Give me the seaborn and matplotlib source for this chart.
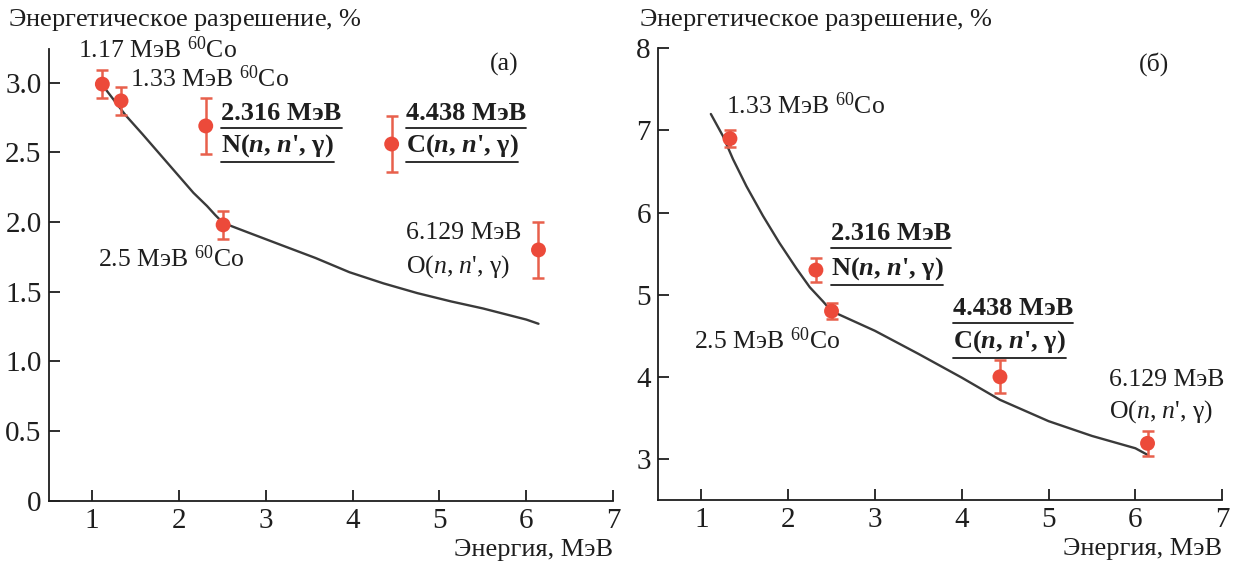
import numpy as np
import pandas as pd
import matplotlib
matplotlib.use("Agg")
import matplotlib.pyplot as plt
from matplotlib.lines import Line2D
import seaborn as sns

# ---------------- data ----------------
# panel (a)
a_energy = [1.12, 1.335, 2.31, 2.51, 4.45, 6.14]
a_res = [2.99, 2.87, 2.69, 1.98, 2.56, 1.80]
a_err = [0.10, 0.10, 0.20, 0.10, 0.20, 0.20]
a_fit_x = [1.10, 1.387, 1.583, 1.778, 1.973, 2.168, 2.325, 2.42, 2.50, 2.597,
           2.79, 3.183, 3.574, 3.964, 4.355, 4.745, 5.136, 5.5, 6.0, 6.14]
a_fit_y = [3.00, 2.767, 2.63, 2.49, 2.35, 2.21, 2.115, 2.05, 2.00, 1.973,
           1.927, 1.834, 1.742, 1.64, 1.56, 1.49, 1.43, 1.38, 1.30, 1.27]

# panel (b)
b_energy = [1.33, 2.32, 2.50, 4.44, 6.14]
b_res = [6.90, 5.30, 4.80, 4.00, 3.19]
b_err = [0.10, 0.15, 0.10, 0.20, 0.15]
b_fit_x = [1.11, 1.25, 1.365, 1.52, 1.71, 1.90, 2.095, 2.25, 2.40, 2.50,
           3.0, 3.5, 4.0, 4.44, 5.0, 5.5, 6.0, 6.14]
b_fit_y = [7.20, 6.93, 6.65, 6.32, 5.96, 5.63, 5.32, 5.09, 4.92, 4.80,
           4.56, 4.28, 3.99, 3.72, 3.46, 3.28, 3.13, 3.05]

a_yticks = [0, 0.5, 1.0, 1.5, 2.0, 2.5, 3.0]
a_yticklabels = ["0", "0.5", "1.0", "1.5", "2.0", "2.5", "3.0"]
b_yticks = [3, 4, 5, 6, 7, 8]
xticks = [1, 2, 3, 4, 5, 6, 7]

ylabel_text = r"Энергетическое разрешение, $\mathit{\%}$"
xlabel_text = "Энергия, МэВ"

# ---------------- style ----------------
sns.set_theme(style="ticks")
plt.rcParams["font.family"] = ["Liberation Serif", "DejaVu Serif"]
plt.rcParams["mathtext.fontset"] = "custom"
plt.rcParams["mathtext.rm"] = "Liberation Serif"
plt.rcParams["mathtext.it"] = "Liberation Serif:italic"
plt.rcParams["mathtext.bf"] = "Liberation Serif:bold"
plt.rcParams["mathtext.bfit"] = "Liberation Serif:italic:bold"

FS = 18.5      # annotations
FS_B = 19      # bold annotations
FS_T = 19      # titles / axis labels
FS_TICK = 21   # tick labels
MARK = "#EC4A3A"
ERRC = "#E8604C"
LINEC = "#3a3a3a"
TXT = "#1e1e1e"

W_PX, H_PX = 1235, 564
fig = plt.figure(figsize=(12.35, 5.64), dpi=100)
axA = fig.add_axes([48.5 / W_PX, (H_PX - 500.7) / H_PX, (613.2 - 48.5) / W_PX, (500.7 - 49.3) / H_PX])
axB = fig.add_axes([657.9 / W_PX, (H_PX - 500.0) / H_PX, (1222.2 - 657.9) / W_PX, (500.0 - 48.3) / H_PX])


def draw(ax, fx, fy, ex, ey, ee):
    sns.lineplot(x=fx, y=fy, ax=ax, color=LINEC, lw=1.7, sort=False, zorder=2)
    ax.errorbar(ex, ey, yerr=ee, fmt="none", ecolor=ERRC, elinewidth=1.8,
                capsize=4.5, capthick=1.8, zorder=3)
    sns.scatterplot(x=ex, y=ey, ax=ax, color=MARK, s=115, edgecolor="none",
                    zorder=4, legend=False)
    ax.set_xlim(0.5, 7)
    ax.set_xticks(xticks)
    for s in ["top", "right"]:
        ax.spines[s].set_visible(False)
    for s in ["left", "bottom"]:
        ax.spines[s].set_color(TXT)
        ax.spines[s].set_linewidth(1.3)
    ax.tick_params(direction="in", length=8, width=1.3, colors=TXT,
                   labelsize=FS_TICK, labelcolor=TXT, pad=5)
    ax.set_xlabel(xlabel_text, loc="right", fontsize=FS_T, labelpad=4, color=TXT)
    ax.set_ylabel("")
    ax.grid(False)


draw(axA, a_fit_x, a_fit_y, a_energy, a_res, a_err)
axA.set_ylim(0, 3.24)
axA.set_yticks(a_yticks)
axA.set_yticklabels(a_yticklabels)

draw(axB, b_fit_x, b_fit_y, b_energy, b_res, b_err)
axB.set_ylim(2.5, 8)
axB.set_yticks(b_yticks)
axB.set_yticklabels([str(v) for v in b_yticks])

fig.text(8 / W_PX, 1 - 26 / H_PX, ylabel_text, fontsize=FS_T, va="baseline", color=TXT)
fig.text(639 / W_PX, 1 - 26 / H_PX, ylabel_text, fontsize=FS_T, va="baseline", color=TXT)

underlined = []


def label(ax, x, y, s, bold=False, ul=False, ha="left"):
    t = ax.text(x, y, s, fontsize=FS_B if bold else FS, va="baseline", ha=ha,
                color=TXT, fontweight="bold" if bold else "normal",
                clip_on=False, zorder=5)
    if ul:
        underlined.append(t)
    return t


co = r"МэВ $^{60}$Co"
nr_b = r"($\mathbfit{n}$, $\mathbfit{n}$', γ)"
nr = r"($\mathit{n}$, $\mathit{n}$', γ)"

# panel (a) annotations
label(axA, 1.75, 3.18, "1.17 " + co, ha="center")
label(axA, 1.435, 2.97, "1.33 " + co)
label(axA, 2.49, 2.73, "2.316 МэВ", bold=True, ul=True)
label(axA, 2.49, 2.505, "N" + nr_b, bold=True, ul=True)
label(axA, 4.61, 2.73, "4.438 МэВ", bold=True, ul=True)
label(axA, 4.61, 2.505, "C" + nr_b, bold=True, ul=True)
label(axA, 1.065, 1.68, "2.5 " + co)
label(axA, 4.61, 1.877, "6.129 МэВ")
label(axA, 4.61, 1.637, "O" + nr)
axA.text(5.75, 3.13, "(a)", fontsize=FS, ha="center", va="center", color=TXT)

# panel (b) annotations
label(axB, 1.29, 7.2, "1.33 " + co)
label(axB, 2.49, 5.67, "2.316 МэВ", bold=True, ul=True)
label(axB, 2.49, 5.25, "N" + nr_b, bold=True, ul=True)
label(axB, 0.92, 4.34, "2.5 " + co)
label(axB, 3.90, 4.75, "4.438 МэВ", bold=True, ul=True)
label(axB, 3.90, 4.35, "C" + nr_b, bold=True, ul=True)
label(axB, 5.70, 3.89, "6.129 МэВ")
label(axB, 5.70, 3.50, "O" + nr)
axB.text(6.22, 7.81, "(б)", fontsize=FS, ha="center", va="center", color=TXT)

# underlines
fig.canvas.draw()
renderer = fig.canvas.get_renderer()
W, H = fig.bbox.width, fig.bbox.height
for t in underlined:
    bb = t.get_window_extent(renderer)
    yline = bb.y0 - 3
    fig.add_artist(Line2D([bb.x0 / W, bb.x1 / W], [yline / H, yline / H],
                          color=TXT, lw=1.3))

fig.savefig("out.png", dpi=100)
